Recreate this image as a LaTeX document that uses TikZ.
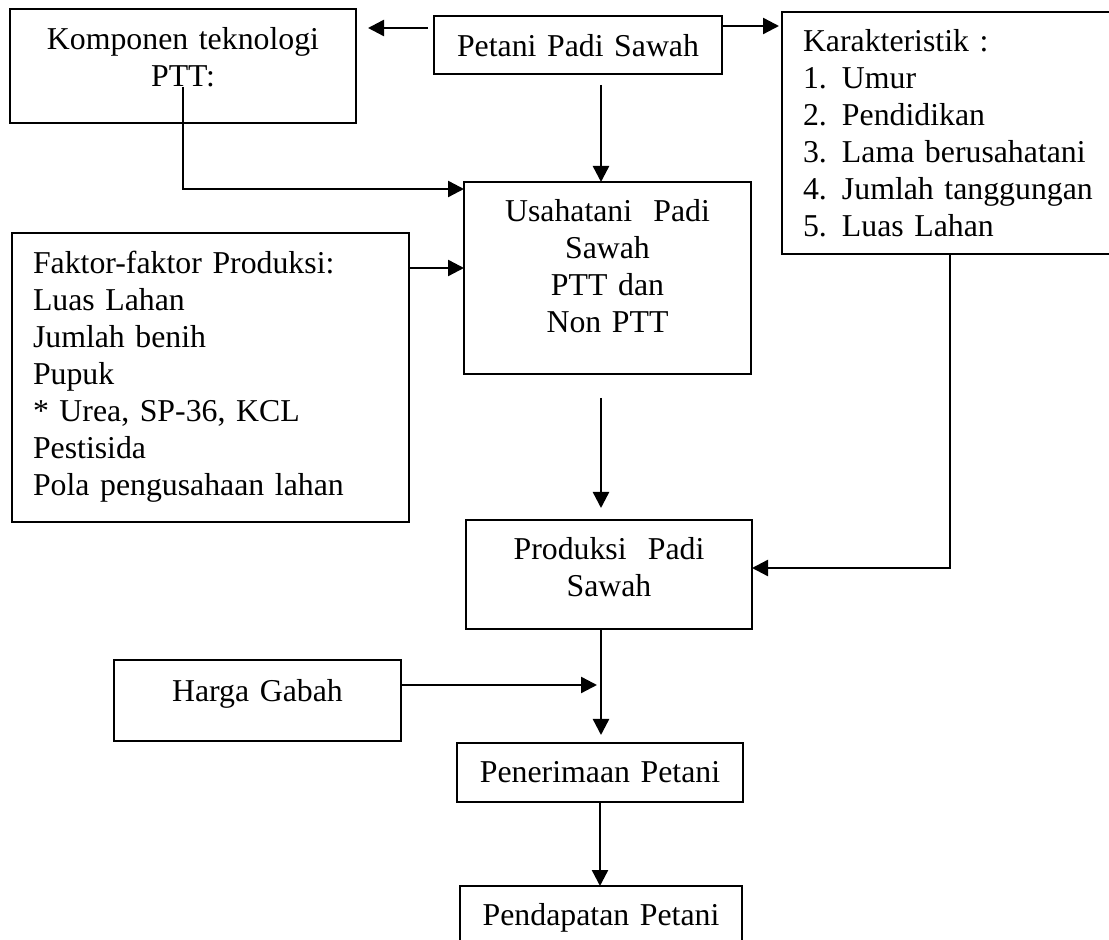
\documentclass[tikz,border=0pt]{standalone}
\usepackage{fontspec}
\setmainfont{Liberation Serif}
\usetikzlibrary{arrows.meta}

\begin{document}
\begin{tikzpicture}[x=0.5pt,y=-0.5pt,
    box/.style={draw,line width=1pt,inner sep=0pt,outer sep=0pt,anchor=north west,
      font=\fontsize{15.9pt}{18.5pt}\selectfont},
    arr/.style={-{Stealth[inset=0pt,length=8pt,width=8pt]},line width=1.2pt}]
  \useasboundingbox (0,0) rectangle (1109,940);
  \node[box,align=center,text width=173pt,text height=20.5pt,text depth=36.5pt] (komp) at (10,9)
    {Komponen teknologi\\ PTT:};
  \node[box,align=center,text width=144pt,text height=20.5pt,text depth=8.5pt] (petani) at (434,16)
    {Petani Padi Sawah};
  \node[box,align=left,inner xsep=10.5pt,text width=148pt,text height=20pt,text depth=101pt] (karak) at (782,12)
    {Karakteristik :\\ \makebox[19.5pt][l]{1.}Umur\\ \makebox[19.5pt][l]{2.}Pendidikan\\
     \makebox[19.5pt][l]{3.}Lama berusahatani\\ \makebox[19.5pt][l]{4.}Jumlah tanggungan\\
     \makebox[19.5pt][l]{5.}Luas Lahan};
  \node[box,align=center,text width=143.5pt,text height=20pt,text depth=76pt] (usaha) at (464,182)
    {Usahatani~~Padi\\ Sawah\\ PTT dan\\ Non PTT};
  \node[box,align=left,inner xsep=10.5pt,text width=177.5pt,text height=20.5pt,text depth=124pt] (faktor) at (12,233)
    {Faktor-faktor Produksi:\\ Luas Lahan\\ Jumlah benih\\ Pupuk\\ {*} Urea, SP-36, KCL\\ Pestisida\\
     Pola pengusahaan lahan};
  \node[box,align=center,text width=143pt,text height=20pt,text depth=34.5pt] (prod) at (466,520)
    {Produksi~~Padi\\ Sawah};
  \node[box,align=center,text width=143.5pt,text height=21pt,text depth=19.5pt] (harga) at (114,660)
    {Harga Gabah};
  \node[box,align=center,text width=143pt,text height=20pt,text depth=9.5pt] (pener) at (457,743)
    {Penerimaan Petani};
  \node[box,align=center,text width=141pt,text height=19.5pt,text depth=10.5pt] (penda) at (460,886)
    {Pendapatan Petani};
  \coordinate (lane) at ([xshift=-4pt]prod.south);
  \draw[arr,shorten <=3pt,shorten >=6pt] ([yshift=8.5pt]petani.west) -- ([yshift=8.5pt]petani.west -| komp.east);
  \draw[arr,shorten >=1.5pt] ([yshift=9.5pt]petani.east) -- ([yshift=9.5pt]petani.east -| karak.west);
  \draw[arr,shorten <=5.5pt] ([xshift=-3.25pt]usaha.north |- petani.south) -- ([xshift=-3.25pt]usaha.north);
  \draw[arr] ([yshift=-10.5pt]komp.center) |- ([yshift=-3.5pt]usaha.north west);
  \draw[arr] ([yshift=-17.5pt]faktor.north east) -- ([yshift=-17.5pt]faktor.north east -| usaha.west);
  \draw[arr,shorten <=12pt,shorten >=6pt] ([xshift=-3.25pt]usaha.south) -- ([xshift=-3.25pt]usaha.south |- prod.north);
  \draw[arr] ([xshift=84pt]karak.south west) |- ([yshift=3.25pt]prod.east);
  \draw[arr,shorten >=4pt] (lane) -- (lane |- pener.north);
  \draw[arr,shorten >=2pt] ([yshift=7.75pt]harga.east) -- ([yshift=7.75pt]harga.east -| lane);
  \draw[arr] (pener.south) -- (pener.south |- penda.north);
\end{tikzpicture}
\end{document}
